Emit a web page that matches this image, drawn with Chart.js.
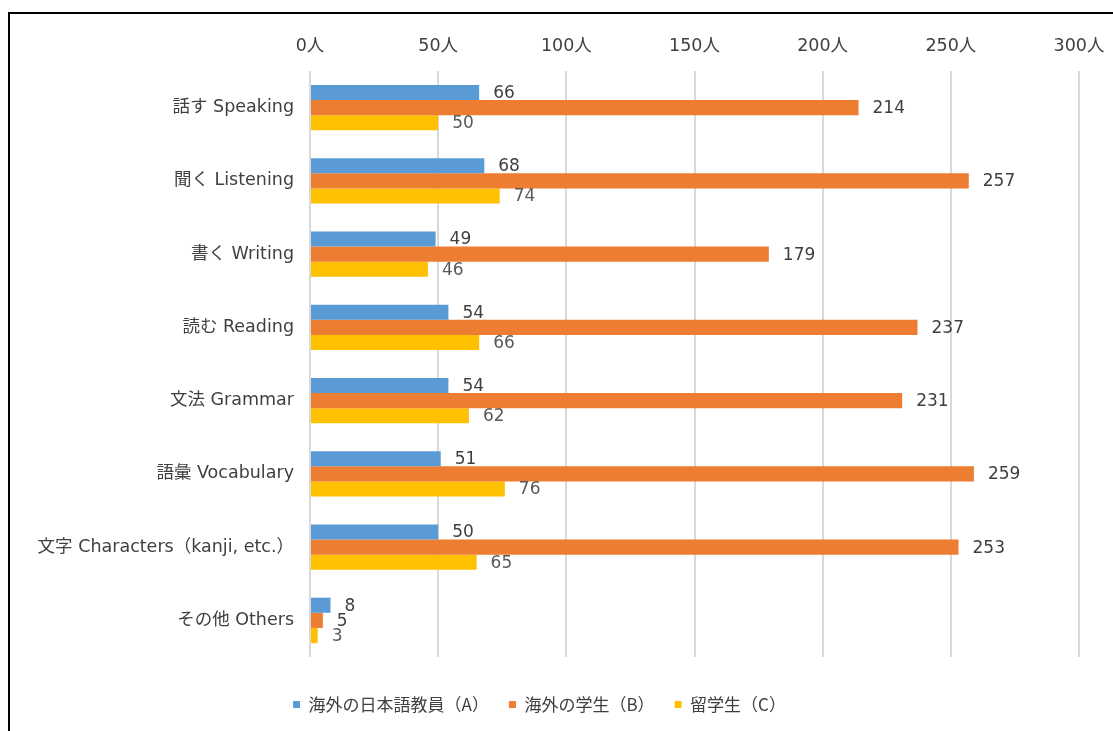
<!DOCTYPE html>
<html>
<head>
<meta charset="utf-8">
<script src="https://cdn.jsdelivr.net/npm/chart.js@4/dist/chart.umd.min.js"></script>
<style>
  html, body { margin: 0; padding: 0; background: #fff; }
  #wrap { position: relative; width: 1113px; height: 731px; overflow: hidden; }
  #frame { position: absolute; left: 8px; top: 12px; width: 1200px; height: 800px; border-left: 2px solid #000; border-top: 2px solid #000; pointer-events: none; }
  canvas { position: absolute; left: 0; top: 0; }
</style>
</head>
<body>
<div id="wrap">
  <canvas id="c" width="1113" height="731"></canvas>
  <div id="frame"></div>
</div>
<script>
const categories = ["話す Speaking", "聞く Listening", "書く Writing", "読む Reading", "文法 Grammar", "語彙 Vocabulary", "文字 Characters（kanji, etc.）", "その他 Others"];
const seriesNames = ["海外の日本語教員（A）", "海外の学生（B）", "留学生（C）"];
const teachersA = [66, 68, 49, 54, 54, 51, 50, 8];
const studentsB = [214, 257, 179, 237, 231, 259, 253, 5];
const intlC = [50, 74, 46, 66, 62, 76, 65, 3];
const xTicks = [0, 50, 100, 150, 200, 250, 300];
const tickUnit = "人";

const FONT = '"DejaVu Sans", "Noto Sans CJK JP", sans-serif';
const LFONT = '"Noto Sans CJK JP", "DejaVu Sans", sans-serif';

const labelPlugin = {
  id: 'valueLabels',
  afterDatasetsDraw(chart) {
    const ctx = chart.ctx;
    ctx.save();
    ctx.font = '17px ' + FONT;
    ctx.textAlign = 'left';
    ctx.textBaseline = 'middle';
    chart.data.datasets.forEach((ds, i) => {
      const meta = chart.getDatasetMeta(i);
      ctx.fillStyle = i === 2 ? '#595959' : '#404040';
      meta.data.forEach((bar, j) => {
        ctx.fillText(String(ds.data[j]), bar.x + 14, bar.y + 1);
      });
    });
    ctx.restore();
  }
};

new Chart(document.getElementById('c'), {
  type: 'bar',
  data: {
    labels: categories,
    datasets: [
      { label: seriesNames[0], data: teachersA, backgroundColor: '#5B9BD5' },
      { label: seriesNames[1], data: studentsB, backgroundColor: '#ED7D31' },
      { label: seriesNames[2], data: intlC, backgroundColor: '#FFC000' }
    ]
  },
  options: {
    indexAxis: 'y',
    responsive: false,
    animation: false,
    layout: { padding: { left: 0, right: 34, top: 0, bottom: 8 } },
    datasets: { bar: { categoryPercentage: 0.62, barPercentage: 1.0 } },
    scales: {
      x: {
        position: 'top',
        min: 0, max: 300,
        afterBuildTicks(s) { s.ticks = xTicks.map(v => ({ value: v })); },
        afterFit(s) { s.height = 71; s.paddingLeft = 0; s.paddingRight = 0; },
        grid: { color: '#d9d9d9', lineWidth: 2, drawTicks: false },
        border: { display: false },
        ticks: { padding: 14, color: '#404040', font: { family: FONT, size: 17.5 }, callback: v => v + tickUnit }
      },
      x2: {
        type: 'linear',
        position: 'bottom',
        display: true,
        afterFit(s) { s.height = 19; s.paddingLeft = 0; s.paddingRight = 0; },
        grid: { display: false, drawTicks: false },
        border: { display: false },
        ticks: { display: false }
      },
      y: {
        afterFit(s) { s.width = 310; },
        grid: { display: false, drawTicks: false },
        border: { display: false },
        ticks: { padding: 16, color: '#404040', font: { family: FONT, size: 17.5 } }
      }
    },
    plugins: {
      legend: {
        position: 'bottom',
        labels: { boxWidth: 7, boxHeight: 7, padding: 20, color: '#404040', font: { family: LFONT, size: 17 } }
      },
      tooltip: { enabled: false }
    }
  },
  plugins: [labelPlugin]
});
</script>
</body>
</html>
